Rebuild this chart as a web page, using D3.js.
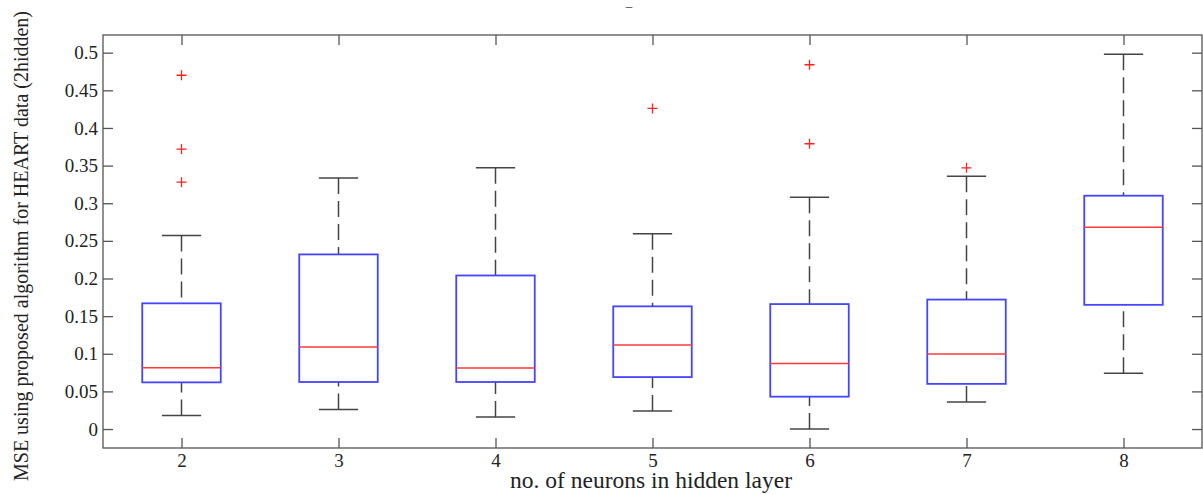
<!DOCTYPE html>
<html>
<head>
<style>
  body { margin: 0; background: #fff; }
  text { font-family: "Liberation Serif", "Times New Roman", serif; fill: #222; }
</style>
</head>
<body>
<svg width="1203" height="495"></svg>
<script src="https://cdn.jsdelivr.net/npm/d3@7"></script>
<script>
// neurons in hidden layer
var groups = [2, 3, 4, 5, 6, 7, 8];
// box stats
var whiskerLow  = [0.018, 0.026, 0.016, 0.024, 0.000, 0.036, 0.074];
var q1          = [0.062, 0.0625, 0.0625, 0.069, 0.043, 0.060, 0.165];
var medians     = [0.0815, 0.109, 0.081, 0.1116, 0.087, 0.0997, 0.268];
var q3          = [0.167, 0.232, 0.204, 0.163, 0.166, 0.172, 0.310];
var whiskerHigh = [0.257, 0.3335, 0.347, 0.2595, 0.308, 0.336, 0.498];
var outliers = [
  [0.470, 0.372, 0.328],
  [],
  [],
  [0.426],
  [0.484, 0.379],
  [0.347],
  []
];
var yTicks = [0, 0.05, 0.1, 0.15, 0.2, 0.25, 0.3, 0.35, 0.4, 0.45, 0.5];

var svg = d3.select("svg");
var plotL = 103, plotR = 1202, plotT = 35, plotB = 448;

var x = d3.scaleLinear().domain([1.5, 8.5]).range([plotL, plotR]);
var y = d3.scaleLinear().domain([-0.0252, 0.5235]).range([plotB, plotT]);

var axisColor = "#555";

// frame
svg.append("rect")
  .attr("x", plotL).attr("y", plotT)
  .attr("width", plotR - plotL).attr("height", plotB - plotT)
  .attr("fill", "none").attr("stroke", axisColor).attr("stroke-width", 1.3);

// y axis (ticks inward)
var yAxis = svg.append("g").attr("transform", "translate(" + plotL + ",0)")
  .call(d3.axisLeft(y).tickValues(yTicks).tickSize(-10).tickPadding(5)
    .tickFormat(function(d) { return String(+d.toFixed(2)); }));
yAxis.select(".domain").remove();
yAxis.selectAll("line").attr("stroke", axisColor).attr("stroke-width", 1.3);
yAxis.selectAll("text").attr("font-size", 19).attr("fill", "#222");

var yAxisR = svg.append("g").attr("transform", "translate(" + plotR + ",0)")
  .call(d3.axisRight(y).tickValues(yTicks).tickSize(-10).tickFormat(""));
yAxisR.select(".domain").remove();
yAxisR.selectAll("line").attr("stroke", axisColor).attr("stroke-width", 1.3);

// x axis
var xAxis = svg.append("g").attr("transform", "translate(0," + plotB + ")")
  .call(d3.axisBottom(x).tickValues(groups).tickSize(-10).tickPadding(6)
    .tickFormat(d3.format("d")));
xAxis.select(".domain").remove();
xAxis.selectAll("line").attr("stroke", axisColor).attr("stroke-width", 1.3);
xAxis.selectAll("text").attr("font-size", 19).attr("fill", "#222");

var xAxisT = svg.append("g").attr("transform", "translate(0," + plotT + ")")
  .call(d3.axisTop(x).tickValues(groups).tickSize(-10).tickFormat(""));
xAxisT.select(".domain").remove();
xAxisT.selectAll("line").attr("stroke", axisColor).attr("stroke-width", 1.3);

// boxes
var boxes = groups.map(function(g, i) {
  return { g: g, lo: whiskerLow[i], q1: q1[i], med: medians[i], q3: q3[i], hi: whiskerHigh[i], out: outliers[i] };
});

var halfBox = 0.25, halfCap = 0.125;
var b = svg.append("g").selectAll("g").data(boxes).enter().append("g");

// whiskers (dashed)
b.append("line")
  .attr("x1", function(d) { return x(d.g); }).attr("x2", function(d) { return x(d.g); })
  .attr("y1", function(d) { return y(d.hi); }).attr("y2", function(d) { return y(d.q3); })
  .attr("stroke", "#444").attr("stroke-width", 1.5).attr("stroke-dasharray", "16,7");
b.append("line")
  .attr("x1", function(d) { return x(d.g); }).attr("x2", function(d) { return x(d.g); })
  .attr("y1", function(d) { return y(d.lo); }).attr("y2", function(d) { return y(d.q1); })
  .attr("stroke", "#444").attr("stroke-width", 1.5).attr("stroke-dasharray", "16,7");

// caps
["hi", "lo"].forEach(function(k) {
  b.append("line")
    .attr("x1", function(d) { return x(d.g - halfCap); }).attr("x2", function(d) { return x(d.g + halfCap); })
    .attr("y1", function(d) { return y(d[k]); }).attr("y2", function(d) { return y(d[k]); })
    .attr("stroke", "#444").attr("stroke-width", 1.5);
});

b.append("rect")
  .attr("x", function(d) { return x(d.g - halfBox); })
  .attr("width", function(d) { return x(d.g + halfBox) - x(d.g - halfBox); })
  .attr("y", function(d) { return y(d.q3); })
  .attr("height", function(d) { return y(d.q1) - y(d.q3); })
  .attr("fill", "#fff").attr("stroke", "#4545ff").attr("stroke-width", 1.8);

b.append("line")
  .attr("x1", function(d) { return x(d.g - halfBox); }).attr("x2", function(d) { return x(d.g + halfBox); })
  .attr("y1", function(d) { return y(d.med); }).attr("y2", function(d) { return y(d.med); })
  .attr("stroke", "#ff3838").attr("stroke-width", 1.4);

// outliers as red plus signs
b.selectAll("path.out").data(function(d) { return d.out.map(function(v) { return { g: d.g, v: v }; }); })
  .enter().append("path")
  .attr("class", "out")
  .attr("d", function(d) {
    var cx = x(d.g), cy = y(d.v), s = 5;
    return "M" + (cx - s) + "," + cy + "H" + (cx + s) + "M" + cx + "," + (cy - s) + "V" + (cy + s);
  })
  .attr("stroke", "#ff2020").attr("stroke-width", 1.3).attr("fill", "none");

// labels
svg.append("text")
  .attr("x", 651).attr("y", 488)
  .attr("text-anchor", "middle").attr("font-size", 23.5)
  .text("no. of neurons in hidden layer");

svg.append("text")
  .attr("transform", "translate(28,246) rotate(-90)")
  .attr("text-anchor", "middle").attr("font-size", 20)
  .text("MSE using proposed algorithm for HEART data (2hidden)");

// empty-looking title
svg.append("text")
  .attr("x", 629).attr("y", 10)
  .attr("text-anchor", "middle").attr("font-size", 13)
  .text("\u2013");
</script>
</body>
</html>
